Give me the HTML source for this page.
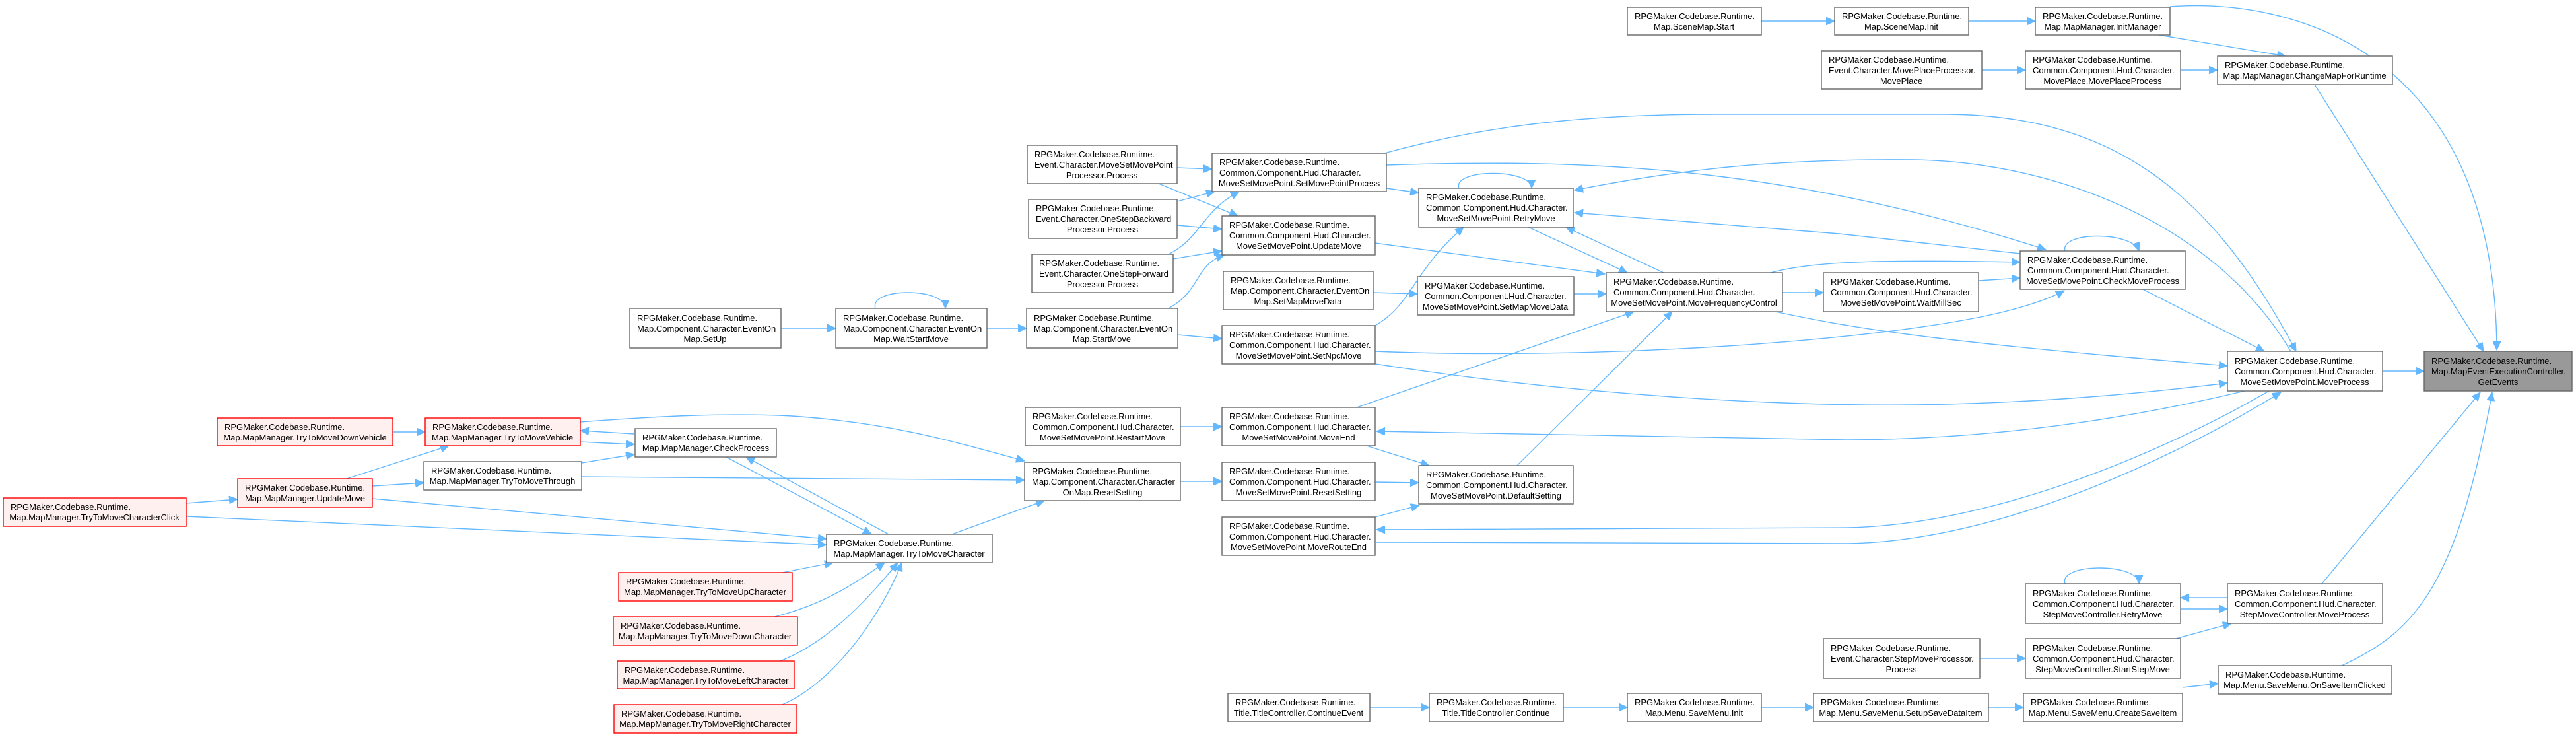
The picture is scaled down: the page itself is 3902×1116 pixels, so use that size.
<!DOCTYPE html>
<html><head><meta charset="utf-8"><style>
html,body{margin:0;padding:0;background:#fff;}
svg{display:block;}
.n rect{fill:#fff;stroke:#666;stroke-width:1.4;}
.r rect{fill:#fff0f0;stroke:#f00;stroke-width:1.4;}
.g rect{fill:#999;stroke:#666;stroke-width:1.4;}
text{font-family:"Liberation Sans",Arial,sans-serif;font-size:13px;fill:#000;}
.m{text-anchor:middle;}
path.e{fill:none;stroke:#63b8ff;stroke-width:1.4;marker-end:url(#a);}
</style></head><body>
<svg width="3902" height="1116" viewBox="0 0 3902 1116" xmlns="http://www.w3.org/2000/svg">
<defs><marker id="a" markerUnits="userSpaceOnUse" markerWidth="14" markerHeight="12" refX="13" refY="6" orient="auto"><path d="M0,0 L13,6 L0,12 z" fill="#63b8ff" stroke="#63b8ff"/></marker></defs>

<path class="e" d="M2668,32 L2779,32"/>
<path class="e" d="M2982,32 L3083,32"/>
<path class="e" d="M3287,10 C3500,-5 3780,100 3782,530"/>
<path class="e" d="M3270,53 L3462,85"/>
<path class="e" d="M3002,106 L3068,106"/>
<path class="e" d="M3303,106 L3359,106"/>
<path class="e" d="M3506,128 L3762,532"/>
<path class="e" d="M2097,232 C2250,190 2400,173 2600,173 L2950,173 C3200,175 3350,290 3478,532"/>
<path class="e" d="M3470,532 C3350,330 3100,245 2900,242 C2700,240 2550,255 2385,288"/>
<path class="e" d="M2100,250 C2400,240 2700,250 3099,378"/>
<path class="e" d="M3060,384 L2786,354 L2385,322"/>
<path class="e" d="M2682,413 C2750,395 2850,393 3060,397"/>
<path class="e" d="M2997,425 L3060,421"/>
<path class="e" d="M2689,472 C2800,495 2900,515 3374,554"/>
<path class="e" d="M2083,532 C2400,545 2800,520 3000,480 C3050,470 3100,455 3127,440"/>
<path class="e" d="M2083,551 C2400,600 2700,615 2900,613 C3100,610 3250,595 3374,580"/>
<path class="e" d="M3400,592 C3200,640 3000,665 2800,666 L2085,653"/>
<path class="e" d="M3437,592 C3250,700 3000,795 2800,799 L2085,802"/>
<path class="e" d="M2085,821 L2800,823 C3000,820 3250,720 3455,594"/>
<path class="e" d="M3246,438 L3430,532"/>
<path class="e" d="M3128,380 C3120,350 3230,350 3240,380"/>
<path class="e" d="M3609,562 L3672,562"/>
<path class="e" d="M2210,285 C2200,255 2320,255 2320,285"/>
<path class="e" d="M2100,285 L2149,292"/>
<path class="e" d="M2315,344 L2465,413"/>
<path class="e" d="M2520,413 L2372,344"/>
<path class="e" d="M2083,493 C2140,460 2140,410 2217,344"/>
<path class="e" d="M2083,368 L2431,415"/>
<path class="e" d="M2080,443 L2147,445"/>
<path class="e" d="M2384,445 L2433,445"/>
<path class="e" d="M2700,443 L2762,443"/>
<path class="e" d="M2055,617 L2475,472"/>
<path class="e" d="M2298,705 L2533,472"/>
<path class="e" d="M2070,675 L2165,705"/>
<path class="e" d="M2083,730 L2149,731"/>
<path class="e" d="M2083,783 L2150,765"/>
<path class="e" d="M1783,254 L1836,256"/>
<path class="e" d="M1755,278 L1875,327"/>
<path class="e" d="M1783,305 L1840,290"/>
<path class="e" d="M1783,341 L1851,347"/>
<path class="e" d="M1770,385 C1820,360 1820,320 1877,290"/>
<path class="e" d="M1777,392 L1851,380"/>
<path class="e" d="M1770,467 C1820,440 1810,400 1855,386"/>
<path class="e" d="M1784,507 L1851,513"/>
<path class="e" d="M1183,497 L1266,497"/>
<path class="e" d="M1326,467 C1316,435 1432,435 1432,467"/>
<path class="e" d="M1495,497 L1555,497"/>
<path class="e" d="M1788,646 L1851,646"/>
<path class="e" d="M1788,729 L1851,729"/>
<path class="e" d="M1442,809 L1582,758"/>
<path class="e" d="M879,639 C1000,630 1100,625 1200,630 C1350,640 1450,670 1552,698"/>
<path class="e" d="M881,722 L1552,727"/>
<path class="e" d="M961,657 L879,652"/>
<path class="e" d="M879,669 L961,673"/>
<path class="e" d="M881,701 L961,688"/>
<path class="e" d="M1100,692 L1320,809"/>
<path class="e" d="M1346,809 L1130,692"/>
<path class="e" d="M525,725 L680,675"/>
<path class="e" d="M564,736 L642,731"/>
<path class="e" d="M595,654 L644,654"/>
<path class="e" d="M564,755 L1252,816"/>
<path class="e" d="M282,762 L360,756"/>
<path class="e" d="M282,782 L1252,825"/>
<path class="e" d="M1185,867 L1262,852"/>
<path class="e" d="M1173,934 C1250,915 1300,880 1340,852"/>
<path class="e" d="M1182,1001 C1260,970 1320,900 1360,852"/>
<path class="e" d="M1185,1067 C1270,1030 1340,920 1366,852"/>
<path class="e" d="M3374,905 L3303,905"/>
<path class="e" d="M3303,922 L3374,922"/>
<path class="e" d="M3128,884 C3118,852 3240,852 3240,884"/>
<path class="e" d="M3296,967 L3380,944"/>
<path class="e" d="M2999,997 L3068,997"/>
<path class="e" d="M3517,884 L3757,594"/>
<path class="e" d="M3547,1008 C3650,960 3720,900 3775,594"/>
<path class="e" d="M3306,1041 L3360,1035"/>
<path class="e" d="M3012,1071 L3065,1071"/>
<path class="e" d="M2668,1071 L2747,1071"/>
<path class="e" d="M2368,1071 L2465,1071"/>
<path class="e" d="M2075,1071 L2165,1071"/>

<g class="n"><rect x="2465" y="11" width="203" height="42"/><text x="2476" y="29">RPGMaker.Codebase.Runtime.</text><text class="m" x="2566" y="45">Map.SceneMap.Start</text></g>
<g class="n"><rect x="2779" y="11" width="203" height="42"/><text x="2790" y="29">RPGMaker.Codebase.Runtime.</text><text class="m" x="2880" y="45">Map.SceneMap.Init</text></g>
<g class="n"><rect x="3083" y="11" width="204" height="42"/><text x="3094" y="29">RPGMaker.Codebase.Runtime.</text><text class="m" x="3185" y="45">Map.MapManager.InitManager</text></g>
<g class="n"><rect x="2759" y="77" width="243" height="58"/><text x="2770" y="95">RPGMaker.Codebase.Runtime.</text><text x="2770" y="111">Event.Character.MovePlaceProcessor.</text><text class="m" x="2880" y="127">MovePlace</text></g>
<g class="n"><rect x="3068" y="77" width="235" height="58"/><text x="3079" y="95">RPGMaker.Codebase.Runtime.</text><text x="3079" y="111">Common.Component.Hud.Character.</text><text class="m" x="3185" y="127">MovePlace.MovePlaceProcess</text></g>
<g class="n"><rect x="3359" y="85" width="265" height="43"/><text x="3370" y="103">RPGMaker.Codebase.Runtime.</text><text class="m" x="3491" y="119">Map.MapManager.ChangeMapForRuntime</text></g>
<g class="n"><rect x="3060" y="380" width="250" height="58"/><text x="3071" y="398">RPGMaker.Codebase.Runtime.</text><text x="3071" y="414">Common.Component.Hud.Character.</text><text class="m" x="3185" y="430">MoveSetMovePoint.CheckMoveProcess</text></g>
<g class="n"><rect x="2762" y="413" width="235" height="59"/><text x="2773" y="431">RPGMaker.Codebase.Runtime.</text><text x="2773" y="447">Common.Component.Hud.Character.</text><text class="m" x="2879" y="463">MoveSetMovePoint.WaitMillSec</text></g>
<g class="n"><rect x="3374" y="532" width="235" height="60"/><text x="3385" y="551">RPGMaker.Codebase.Runtime.</text><text x="3385" y="567">Common.Component.Hud.Character.</text><text class="m" x="3491" y="583">MoveSetMovePoint.MoveProcess</text></g>
<g class="g"><rect x="3672" y="532" width="224" height="60"/><text x="3683" y="551">RPGMaker.Codebase.Runtime.</text><text x="3683" y="567">Map.MapEventExecutionController.</text><text class="m" x="3784" y="583">GetEvents</text></g>
<g class="n"><rect x="3068" y="884" width="235" height="60"/><text x="3079" y="903">RPGMaker.Codebase.Runtime.</text><text x="3079" y="919">Common.Component.Hud.Character.</text><text class="m" x="3185" y="935">StepMoveController.RetryMove</text></g>
<g class="n"><rect x="3374" y="884" width="235" height="60"/><text x="3385" y="903">RPGMaker.Codebase.Runtime.</text><text x="3385" y="919">Common.Component.Hud.Character.</text><text class="m" x="3491" y="935">StepMoveController.MoveProcess</text></g>
<g class="n"><rect x="2762" y="967" width="237" height="60"/><text x="2773" y="986">RPGMaker.Codebase.Runtime.</text><text x="2773" y="1002">Event.Character.StepMoveProcessor.</text><text class="m" x="2880" y="1018">Process</text></g>
<g class="n"><rect x="3068" y="967" width="235" height="60"/><text x="3079" y="986">RPGMaker.Codebase.Runtime.</text><text x="3079" y="1002">Common.Component.Hud.Character.</text><text class="m" x="3185" y="1018">StepMoveController.StartStepMove</text></g>
<g class="n"><rect x="3360" y="1008" width="263" height="43"/><text x="3371" y="1026">RPGMaker.Codebase.Runtime.</text><text class="m" x="3491" y="1042">Map.Menu.SaveMenu.OnSaveItemClicked</text></g>
<g class="n"><rect x="3065" y="1050" width="241" height="43"/><text x="3076" y="1068">RPGMaker.Codebase.Runtime.</text><text class="m" x="3185" y="1084">Map.Menu.SaveMenu.CreateSaveItem</text></g>
<g class="n"><rect x="2747" y="1050" width="265" height="43"/><text x="2758" y="1068">RPGMaker.Codebase.Runtime.</text><text class="m" x="2879" y="1084">Map.Menu.SaveMenu.SetupSaveDataItem</text></g>
<g class="n"><rect x="2465" y="1050" width="203" height="43"/><text x="2476" y="1068">RPGMaker.Codebase.Runtime.</text><text class="m" x="2566" y="1084">Map.Menu.SaveMenu.Init</text></g>
<g class="n"><rect x="2165" y="1050" width="203" height="43"/><text x="2176" y="1068">RPGMaker.Codebase.Runtime.</text><text class="m" x="2266" y="1084">Title.TitleController.Continue</text></g>
<g class="n"><rect x="1860" y="1050" width="215" height="43"/><text x="1871" y="1068">RPGMaker.Codebase.Runtime.</text><text class="m" x="1967" y="1084">Title.TitleController.ContinueEvent</text></g>
<g class="n"><rect x="1836" y="232" width="264" height="58"/><text x="1847" y="250">RPGMaker.Codebase.Runtime.</text><text x="1847" y="266">Common.Component.Hud.Character.</text><text class="m" x="1968" y="282">MoveSetMovePoint.SetMovePointProcess</text></g>
<g class="n"><rect x="2149" y="285" width="234" height="59"/><text x="2160" y="303">RPGMaker.Codebase.Runtime.</text><text x="2160" y="319">Common.Component.Hud.Character.</text><text class="m" x="2266" y="335">MoveSetMovePoint.RetryMove</text></g>
<g class="n"><rect x="1851" y="327" width="232" height="59"/><text x="1862" y="345">RPGMaker.Codebase.Runtime.</text><text x="1862" y="361">Common.Component.Hud.Character.</text><text class="m" x="1967" y="377">MoveSetMovePoint.UpdateMove</text></g>
<g class="n"><rect x="1853" y="411" width="227" height="58"/><text x="1864" y="429">RPGMaker.Codebase.Runtime.</text><text x="1864" y="445">Map.Component.Character.EventOn</text><text class="m" x="1966" y="461">Map.SetMapMoveData</text></g>
<g class="n"><rect x="2147" y="419" width="237" height="58"/><text x="2158" y="437">RPGMaker.Codebase.Runtime.</text><text x="2158" y="453">Common.Component.Hud.Character.</text><text class="m" x="2265" y="469">MoveSetMovePoint.SetMapMoveData</text></g>
<g class="n"><rect x="2433" y="413" width="267" height="59"/><text x="2444" y="431">RPGMaker.Codebase.Runtime.</text><text x="2444" y="447">Common.Component.Hud.Character.</text><text class="m" x="2566" y="463">MoveSetMovePoint.MoveFrequencyControl</text></g>
<g class="n"><rect x="1851" y="493" width="232" height="58"/><text x="1862" y="511">RPGMaker.Codebase.Runtime.</text><text x="1862" y="527">Common.Component.Hud.Character.</text><text class="m" x="1967" y="543">MoveSetMovePoint.SetNpcMove</text></g>
<g class="n"><rect x="1851" y="617" width="232" height="58"/><text x="1862" y="635">RPGMaker.Codebase.Runtime.</text><text x="1862" y="651">Common.Component.Hud.Character.</text><text class="m" x="1967" y="667">MoveSetMovePoint.MoveEnd</text></g>
<g class="n"><rect x="1851" y="700" width="232" height="58"/><text x="1862" y="718">RPGMaker.Codebase.Runtime.</text><text x="1862" y="734">Common.Component.Hud.Character.</text><text class="m" x="1967" y="750">MoveSetMovePoint.ResetSetting</text></g>
<g class="n"><rect x="2149" y="705" width="234" height="58"/><text x="2160" y="723">RPGMaker.Codebase.Runtime.</text><text x="2160" y="739">Common.Component.Hud.Character.</text><text class="m" x="2266" y="755">MoveSetMovePoint.DefaultSetting</text></g>
<g class="n"><rect x="1851" y="783" width="232" height="58"/><text x="1862" y="801">RPGMaker.Codebase.Runtime.</text><text x="1862" y="817">Common.Component.Hud.Character.</text><text class="m" x="1967" y="833">MoveSetMovePoint.MoveRouteEnd</text></g>
<g class="n"><rect x="1556" y="220" width="227" height="58"/><text x="1567" y="238">RPGMaker.Codebase.Runtime.</text><text x="1567" y="254">Event.Character.MoveSetMovePoint</text><text class="m" x="1669" y="270">Processor.Process</text></g>
<g class="n"><rect x="1558" y="302" width="225" height="59"/><text x="1569" y="320">RPGMaker.Codebase.Runtime.</text><text x="1569" y="336">Event.Character.OneStepBackward</text><text class="m" x="1670" y="352">Processor.Process</text></g>
<g class="n"><rect x="1563" y="385" width="214" height="58"/><text x="1574" y="403">RPGMaker.Codebase.Runtime.</text><text x="1574" y="419">Event.Character.OneStepForward</text><text class="m" x="1670" y="435">Processor.Process</text></g>
<g class="n"><rect x="954" y="467" width="229" height="60"/><text x="965" y="486">RPGMaker.Codebase.Runtime.</text><text x="965" y="502">Map.Component.Character.EventOn</text><text class="m" x="1068" y="518">Map.SetUp</text></g>
<g class="n"><rect x="1266" y="467" width="229" height="60"/><text x="1277" y="486">RPGMaker.Codebase.Runtime.</text><text x="1277" y="502">Map.Component.Character.EventOn</text><text class="m" x="1380" y="518">Map.WaitStartMove</text></g>
<g class="n"><rect x="1555" y="467" width="229" height="60"/><text x="1566" y="486">RPGMaker.Codebase.Runtime.</text><text x="1566" y="502">Map.Component.Character.EventOn</text><text class="m" x="1669" y="518">Map.StartMove</text></g>
<g class="n"><rect x="962" y="649" width="214" height="43"/><text x="973" y="667">RPGMaker.Codebase.Runtime.</text><text class="m" x="1069" y="683">Map.MapManager.CheckProcess</text></g>
<g class="n"><rect x="1553" y="617" width="235" height="58"/><text x="1564" y="635">RPGMaker.Codebase.Runtime.</text><text x="1564" y="651">Common.Component.Hud.Character.</text><text class="m" x="1670" y="667">MoveSetMovePoint.RestartMove</text></g>
<g class="n"><rect x="1552" y="700" width="236" height="58"/><text x="1563" y="718">RPGMaker.Codebase.Runtime.</text><text x="1563" y="734">Map.Component.Character.Character</text><text class="m" x="1670" y="750">OnMap.ResetSetting</text></g>
<g class="n"><rect x="1252" y="809" width="251" height="43"/><text x="1263" y="827">RPGMaker.Codebase.Runtime.</text><text class="m" x="1377" y="843">Map.MapManager.TryToMoveCharacter</text></g>
<g class="r"><rect x="937" y="867" width="263" height="43"/><text x="948" y="885">RPGMaker.Codebase.Runtime.</text><text class="m" x="1068" y="901">Map.MapManager.TryToMoveUpCharacter</text></g>
<g class="r"><rect x="929" y="934" width="279" height="43"/><text x="940" y="952">RPGMaker.Codebase.Runtime.</text><text class="m" x="1068" y="968">Map.MapManager.TryToMoveDownCharacter</text></g>
<g class="r"><rect x="935" y="1001" width="268" height="42"/><text x="946" y="1019">RPGMaker.Codebase.Runtime.</text><text class="m" x="1069" y="1035">Map.MapManager.TryToMoveLeftCharacter</text></g>
<g class="r"><rect x="930" y="1067" width="277" height="43"/><text x="941" y="1085">RPGMaker.Codebase.Runtime.</text><text class="m" x="1068" y="1101">Map.MapManager.TryToMoveRightCharacter</text></g>
<g class="r"><rect x="329" y="633" width="266" height="42"/><text x="340" y="651">RPGMaker.Codebase.Runtime.</text><text class="m" x="462" y="667">Map.MapManager.TryToMoveDownVehicle</text></g>
<g class="r"><rect x="644" y="633" width="235" height="42"/><text x="655" y="651">RPGMaker.Codebase.Runtime.</text><text class="m" x="761" y="667">Map.MapManager.TryToMoveVehicle</text></g>
<g class="n"><rect x="642" y="699" width="239" height="43"/><text x="653" y="717">RPGMaker.Codebase.Runtime.</text><text class="m" x="761" y="733">Map.MapManager.TryToMoveThrough</text></g>
<g class="r"><rect x="360" y="725" width="204" height="43"/><text x="371" y="743">RPGMaker.Codebase.Runtime.</text><text class="m" x="462" y="759">Map.MapManager.UpdateMove</text></g>
<g class="r"><rect x="5" y="754" width="277" height="43"/><text x="16" y="772">RPGMaker.Codebase.Runtime.</text><text class="m" x="143" y="788">Map.MapManager.TryToMoveCharacterClick</text></g>
</svg>
</body></html>
